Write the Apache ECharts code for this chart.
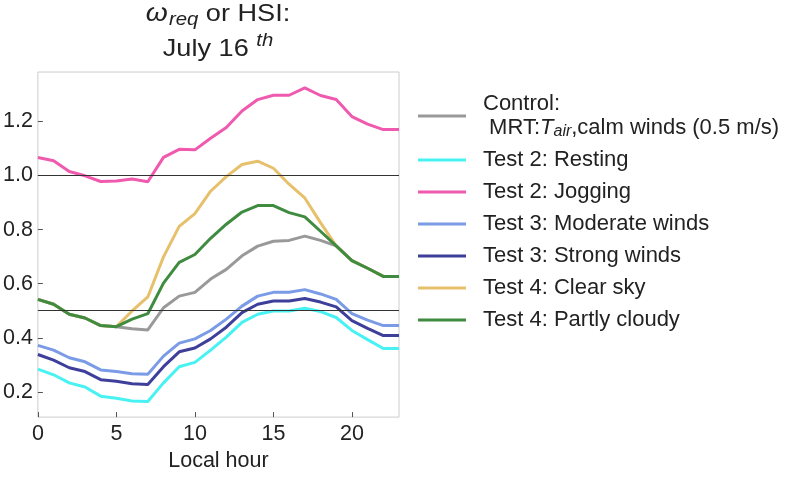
<!DOCTYPE html>
<html><head><meta charset="utf-8">
<script src="https://cdn.jsdelivr.net/npm/echarts@6/dist/echarts.min.js"></script>
<style>html,body{margin:0;padding:0;background:#fff}#c{width:800px;height:477px}</style>
</head><body><div id="c"></div>
<script>
const hours = [0,1,2,3,4,5,6,7,8,9,10,11,12,13,14,15,16,17,18,19,20,21,22,23];
const control = [0.542,0.524,0.487,0.473,0.445,0.441,0.433,0.429,0.511,0.554,0.568,0.617,0.653,0.703,0.739,0.757,0.760,0.776,0.760,0.740,0.685,0.657,0.627,0.627];
const resting = [0.284,0.263,0.233,0.218,0.184,0.176,0.166,0.164,0.233,0.293,0.309,0.354,0.402,0.457,0.487,0.499,0.499,0.509,0.497,0.475,0.427,0.393,0.360,0.360];
const jogging = [1.067,1.055,1.015,0.999,0.978,0.980,0.987,0.977,1.067,1.097,1.095,1.138,1.178,1.239,1.281,1.297,1.297,1.324,1.296,1.281,1.218,1.190,1.170,1.170];
const moderateWinds = [0.372,0.354,0.326,0.311,0.281,0.275,0.267,0.265,0.332,0.380,0.396,0.427,0.469,0.517,0.554,0.568,0.568,0.578,0.562,0.542,0.489,0.465,0.445,0.445];
const strongWinds = [0.338,0.317,0.289,0.275,0.245,0.239,0.230,0.227,0.293,0.348,0.362,0.396,0.439,0.493,0.524,0.536,0.536,0.545,0.532,0.514,0.463,0.435,0.408,0.408];
const clearSky = [0.542,0.524,0.487,0.473,0.445,0.441,0.499,0.551,0.699,0.812,0.859,0.942,0.996,1.041,1.053,1.027,0.968,0.917,0.826,0.740,0.685,0.657,0.627,0.627];
const partlyCloudy = [0.542,0.524,0.487,0.473,0.445,0.441,0.469,0.489,0.602,0.679,0.708,0.768,0.820,0.865,0.889,0.889,0.863,0.847,0.794,0.740,0.685,0.657,0.627,0.627];
const referenceLines = [1.0, 0.5];
const xTicks = [0,5,10,15,20];
const yTicks = [0.2,0.4,0.6,0.8,1.0,1.2];
const seriesNames = ['Control','Test 2: Resting','Test 2: Jogging','Test 3: Moderate winds','Test 3: Strong winds','Test 4: Clear sky','Test 4: Partly cloudy'];
const seriesValues = [control, resting, jogging, moderateWinds, strongWinds, clearSky, partlyCloudy];
const seriesColors = ['#999999','#48f2f2','#f05aae','#7b9be6','#3e3f9b','#e6c06b','#3f8b3f'];

const FONT = '"Liberation Sans", Arial, sans-serif';
const TXT = '#222222';

const series = seriesNames.map((name, k) => {
  const s = {
    name: name,
    type: 'line',
    showSymbol: false,
    symbol: 'none',
    data: hours.map((h, i) => [h, seriesValues[k][i]]),
    lineStyle: { color: seriesColors[k], width: 3 },
    itemStyle: { color: seriesColors[k] },
    emphasis: { disabled: true },
    animation: false
  };
  if (k === seriesNames.length - 1) {
    s.markLine = {
      silent: true,
      symbol: ['none','none'],
      label: { show: false },
      lineStyle: { color: '#333333', width: 1, type: 'solid' },
      emphasis: { disabled: true },
      animation: false,
      data: referenceLines.map(v => ({ yAxis: v }))
    };
  }
  return s;
});

const chart = echarts.init(document.getElementById('c'), null, { renderer: 'canvas' });
chart.setOption({
  animation: false,
  backgroundColor: '#ffffff',
  grid: { left: 37, right: 401, top: 72, bottom: 54, show: true, borderColor: '#cccccc', borderWidth: 1, backgroundColor: 'transparent' },
  graphic: [{
    type: 'text', x: 218, y: -3.5, scaleX: 1.13, silent: true,
    style: {
      text: '{w|ω}{sub|req}{n| or HSI:}\n{n|July 16 }{sup|th}',
      align: 'center', verticalAlign: 'top', fill: TXT,
      font: '24px ' + FONT,
      rich: {
        w: { fontSize: 25, fontStyle: 'italic', lineHeight: 35, fontFamily: FONT, fill: TXT, verticalAlign: 'middle' },
        n: { fontSize: 24, lineHeight: 35, fontFamily: FONT, fill: TXT, verticalAlign: 'middle' },
        sub: { fontSize: 18, fontStyle: 'italic', lineHeight: 18, padding: [11,0,0,1], fontFamily: FONT, fill: TXT, verticalAlign: 'middle' },
        sup: { fontSize: 18, fontStyle: 'italic', lineHeight: 18, padding: [0,0,16,0], fontFamily: FONT, fill: TXT, verticalAlign: 'middle' }
      }
    }
  }],
  legend: {
    orient: 'vertical', left: 418, top: 92, padding: 0,
    itemWidth: 48, itemHeight: 3, itemGap: 8, icon: 'rect',
    selectedMode: false,
    data: seriesNames,
    formatter: function (name) {
      if (name === 'Control') return 'Control:\n MRT:{i|T}{s|air},calm winds (0.5 m/s)';
      return name;
    },
    textStyle: {
      fontFamily: FONT, fontSize: 22, color: TXT, lineHeight: 24, padding: [0,0,0,12],
      rich: {
        i: { fontFamily: FONT, fontSize: 22, fontStyle: 'italic', color: TXT, lineHeight: 24 },
        s: { fontFamily: FONT, fontSize: 16, fontStyle: 'italic', color: TXT, lineHeight: 16, padding: [8,0,0,0], verticalAlign: 'middle' }
      }
    }
  },
  xAxis: {
    type: 'value', min: 0, max: 23,
    name: 'Local hour', nameLocation: 'middle', nameGap: 30,
    nameTextStyle: { fontFamily: FONT, fontSize: 21.5, color: TXT },
    axisLine: { show: false },
    splitLine: { show: false },
    axisTick: { show: true, inside: true, length: 5, lineStyle: { color: '#555555', width: 1 }, customValues: xTicks },
    axisLabel: { fontFamily: FONT, fontSize: 21.5, color: TXT, margin: 6, customValues: xTicks, formatter: v => String(v) }
  },
  yAxis: {
    type: 'value', min: 0.1065, max: 1.383,
    axisLine: { show: false },
    splitLine: { show: false },
    axisTick: { show: true, inside: true, length: 5, lineStyle: { color: '#555555', width: 1 }, customValues: yTicks },
    axisLabel: { fontFamily: FONT, fontSize: 21.5, color: TXT, margin: 5, customValues: yTicks, formatter: v => v.toFixed(1) }
  },
  series: series
});
</script>
</body></html>
